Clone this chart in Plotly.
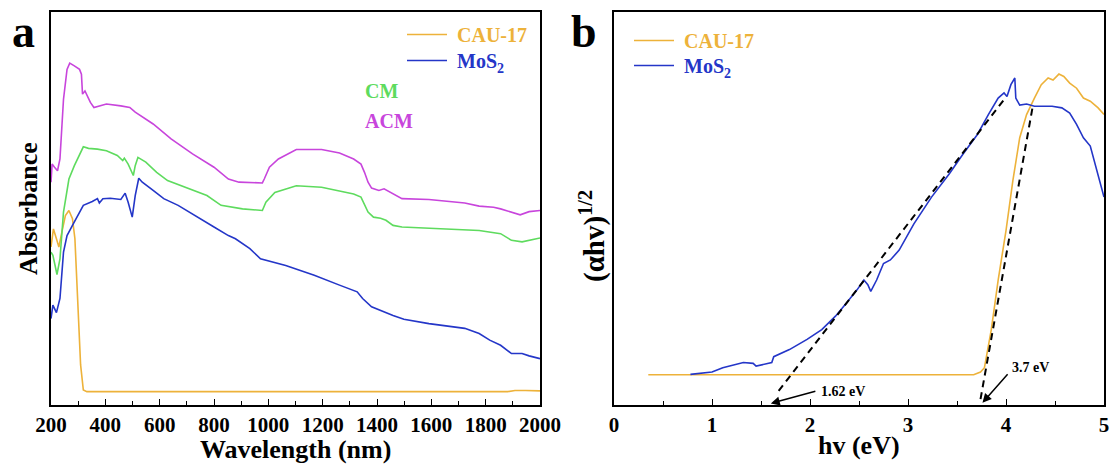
import plotly.graph_objects as go

# ---------------- Panel a: absorbance spectra ----------------
acm_wl = [200, 204, 213, 224, 233, 246, 259, 269, 286, 305, 312, 316, 325, 345, 358, 378, 404, 457, 490, 510,
          576, 642, 721, 800, 853, 892, 978, 985, 1004, 1037, 1103, 1196, 1262, 1314, 1341, 1354, 1367, 1380,
          1407, 1426, 1459, 1492, 1591, 1723, 1776, 1829, 1855, 1895, 1927, 1960, 2000]
acm_abs = [56.7, 61.3, 60.5, 59.6, 62.6, 77.8, 85.4, 87.0, 86.3, 85.4, 84.2, 79.1, 79.9, 77.0, 75.7, 76.1, 76.6,
           76.1, 75.7, 74.5, 71.5, 67.7, 63.9, 60.5, 57.5, 56.7, 56.5, 57.5, 60.5, 62.6, 65.0, 65.0, 64.1, 62.6,
           61.3, 59.2, 56.7, 55.2, 54.6, 55.0, 53.7, 52.5, 52.3, 51.4, 50.6, 50.3, 49.9, 49.1, 48.4, 49.2, 49.5]

cm_wl = [200, 207, 222, 233, 246, 266, 286, 305, 319, 338, 371, 404, 444, 464, 470, 484, 503, 510, 520, 549,
         589, 629, 695, 774, 826, 905, 978, 991, 1024, 1103, 1196, 1314, 1341, 1354, 1367, 1387, 1413, 1433,
         1459, 1492, 1591, 1723, 1776, 1855, 1895, 1934, 1974, 2000]
cm_abs = [38.9, 38.1, 33.2, 37.2, 49.1, 57.5, 60.9, 63.9, 65.7, 65.3, 65.1, 64.7, 63.5, 62.2, 62.8, 61.3, 58.4,
          60.9, 63.0, 61.8, 59.2, 57.1, 55.4, 53.3, 50.8, 49.9, 49.5, 51.6, 54.1, 55.8, 55.4, 53.7, 52.9, 51.2,
          49.1, 47.8, 47.5, 47.0, 45.7, 45.3, 45.0, 44.7, 44.4, 43.6, 41.9, 41.5, 42.1, 42.5]

mos2_wl = [200, 207, 220, 233, 246, 259, 279, 305, 319, 352, 371, 378, 391, 418, 457, 473, 484, 499, 510, 523,
           536, 576, 615, 668, 747, 800, 853, 879, 932, 971, 1064, 1169, 1262, 1327, 1347, 1380, 1459, 1499,
           1591, 1723, 1776, 1815, 1855, 1895, 1934, 1960, 2000]
mos2_abs = [22.0, 25.4, 23.5, 27.1, 38.9, 43.1, 45.7, 49.1, 50.8, 51.8, 52.5, 51.4, 52.5, 52.6, 52.3, 53.9, 51.6,
            47.8, 53.3, 57.7, 56.7, 54.6, 52.5, 50.8, 47.4, 45.3, 43.1, 42.3, 39.8, 37.2, 35.5, 33.0, 30.5, 28.8,
            27.1, 25.0, 22.8, 21.8, 20.7, 19.5, 18.2, 16.5, 15.2, 13.1, 13.1, 12.5, 11.8]

cau_wl = [200, 209, 220, 229, 240, 253, 266, 279, 288, 299, 309, 319, 332, 1881, 1908, 1947, 2000]
cau_abs = [40.2, 44.8, 42.3, 40.2, 44.0, 48.2, 49.5, 47.4, 42.3, 27.1, 10.2, 3.8, 3.4, 3.4, 3.7, 3.7, 3.6]

# ---------------- Panel b: Tauc plot ----------------
cau_hv = [0.35, 3.67, 3.74, 3.78, 3.85, 3.92, 4.00, 4.07, 4.14, 4.21, 4.29, 4.36, 4.43, 4.48, 4.54, 4.59, 4.65,
          4.72, 4.79, 4.86, 4.94, 5.0]
cau_tauc = [7.7, 7.7, 8.4, 9.5, 19.2, 31.8, 44.4, 57.1, 68.0, 73.9, 78.1, 81.5, 83.2, 82.7, 84.2, 83.6, 81.9,
            80.6, 78.1, 77.3, 75.6, 73.9]

mos2_hv = [0.78, 1.00, 1.11, 1.22, 1.32, 1.42, 1.45, 1.61, 1.63, 1.79, 1.97, 2.12, 2.26, 2.37, 2.48, 2.55, 2.59,
           2.62, 2.68, 2.75, 2.82, 2.91, 3.06, 3.24, 3.42, 3.56, 3.71, 3.82, 3.92, 3.98, 4.01, 4.05, 4.09, 4.10,
           4.14, 4.21, 4.29, 4.36, 4.47, 4.57, 4.65, 4.72, 4.79, 4.86, 4.94, 5.0]
mos2_tauc = [7.8, 8.4, 9.5, 10.1, 10.8, 10.6, 9.9, 10.8, 12.3, 14.1, 16.7, 19.2, 22.6, 25.9, 29.3, 31.8, 30.6,
             28.9, 31.8, 36.0, 36.9, 39.4, 46.1, 52.9, 58.8, 63.8, 68.9, 73.9, 78.1, 79.4, 78.5, 81.5, 83.2, 78.1,
             76.3, 76.6, 76.0, 76.0, 76.0, 75.6, 74.3, 71.4, 68.0, 65.9, 58.8, 52.9]

fit_mos2_hv = [1.68, 3.98]
fit_mos2_y = [3.6, 77.7]
fit_cau_hv = [3.74, 4.27]
fit_cau_y = [1.5, 75.6]

gap_labels = ["1.62 eV", "3.7 eV"]

C_CAU = "#EDB23A"
C_MOS2 = "#2436C8"
C_CM = "#5EDB5E"
C_ACM = "#C845DC"
FONT = "Liberation Serif, Times New Roman, serif"

name_cau = f"&nbsp;<span style='color:{C_CAU}'>CAU-17</span>"
name_mos2 = f"&nbsp;<span style='color:{C_MOS2}'>MoS<sub>2</sub></span>"

fig = go.Figure()
lw = 1.6
fig.add_trace(go.Scatter(x=cau_wl, y=cau_abs, mode="lines", line=dict(color=C_CAU, width=lw),
                         name=name_cau, legend="legend"))
fig.add_trace(go.Scatter(x=mos2_wl, y=mos2_abs, mode="lines", line=dict(color=C_MOS2, width=lw),
                         name=name_mos2, legend="legend3"))
fig.add_trace(go.Scatter(x=cm_wl, y=cm_abs, mode="lines", line=dict(color=C_CM, width=lw),
                         name="CM", showlegend=False))
fig.add_trace(go.Scatter(x=acm_wl, y=acm_abs, mode="lines", line=dict(color=C_ACM, width=lw),
                         name="ACM", showlegend=False))

fig.add_trace(go.Scatter(x=cau_hv, y=cau_tauc, mode="lines", line=dict(color=C_CAU, width=lw),
                         name=name_cau, xaxis="x2", yaxis="y2", legend="legend2"))
fig.add_trace(go.Scatter(x=mos2_hv, y=mos2_tauc, mode="lines", line=dict(color=C_MOS2, width=lw),
                         name=name_mos2, xaxis="x2", yaxis="y2", legend="legend4"))
fig.add_trace(go.Scatter(x=fit_mos2_hv, y=fit_mos2_y, mode="lines", line=dict(color="black", width=2, dash="7px,5px"),
                         showlegend=False, xaxis="x2", yaxis="y2"))
fig.add_trace(go.Scatter(x=fit_cau_hv, y=fit_cau_y, mode="lines", line=dict(color="black", width=2, dash="7px,5px"),
                         showlegend=False, xaxis="x2", yaxis="y2"))

ydom = [0.1383, 0.9745]
tickfont = dict(family=FONT, size=21, color="black", weight="bold")
axis_common = dict(showline=True, linecolor="black", linewidth=1.6, mirror=True, showgrid=False,
                   zeroline=False, ticks="inside", ticklen=6, tickwidth=1.3, tickcolor="black",
                   tickfont=tickfont, automargin=False)
yaxis_common = dict(range=[0, 100], showticklabels=False, showline=True, linecolor="black",
                    linewidth=1.6, mirror=True, showgrid=False, zeroline=False, ticks="", automargin=False)


def leg(xpx, ytop):
    return dict(x=xpx / 1115, y=1 - ytop / 470, xanchor="left", yanchor="top", bgcolor="rgba(0,0,0,0)",
                font=dict(family=FONT, size=20, weight="bold"), itemwidth=40)


fig.update_layout(
    width=1115, height=470, margin=dict(l=0, r=0, t=0, b=0, autoexpand=False),
    paper_bgcolor="white", plot_bgcolor="white",
    xaxis=dict(domain=[51 / 1115, 540 / 1115], range=[200, 2000], dtick=200, tick0=200,
               minor=dict(ticks="inside", dtick=100, ticklen=4, tickcolor="black", tickwidth=1.2),
               anchor="y", **axis_common),
    yaxis=dict(domain=ydom, anchor="x", **yaxis_common),
    xaxis2=dict(domain=[614 / 1115, 1104 / 1115], range=[0, 5], dtick=1, tick0=0,
                minor=dict(ticks="inside", dtick=0.5, ticklen=4, tickcolor="black", tickwidth=1.2),
                anchor="y2", **axis_common),
    yaxis2=dict(domain=ydom, anchor="x2", **yaxis_common),
    legend=leg(402, 15),
    legend3=leg(402, 41),
    legend2=leg(629, 21),
    legend4=leg(629, 46),
    showlegend=True,
)

bold = lambda size, color="black": dict(family=FONT, size=size, color=color, weight="bold")
ann = []
ann.append(dict(text="Wavelength (nm)", x=295.5 / 1115, y=1 - 449 / 470, xref="paper", yref="paper",
                showarrow=False, font=bold(26), xanchor="center", yanchor="middle"))
ann.append(dict(text="hv (eV)", x=859 / 1115, y=1 - 445 / 470, xref="paper", yref="paper",
                showarrow=False, font=bold(26), xanchor="center", yanchor="middle"))
ann.append(dict(text="Absorbance", x=28 / 1115, y=1 - 209 / 470, xref="paper", yref="paper", textangle=-90,
                showarrow=False, font=bold(26), xanchor="center", yanchor="middle"))
ann.append(dict(text="(αhv)<sup>1/2</sup>", x=593 / 1115, y=1 - 236 / 470,
                xref="paper", yref="paper", textangle=-90, showarrow=False, font=bold(29),
                xanchor="center", yanchor="middle"))
ann.append(dict(text="a", x=23 / 1115, y=1 - 32 / 470, xref="paper", yref="paper",
                showarrow=False, font=bold(46), xanchor="center", yanchor="middle"))
ann.append(dict(text="b", x=584 / 1115, y=1 - 32 / 470, xref="paper", yref="paper",
                showarrow=False, font=bold(46), xanchor="center", yanchor="middle"))
ann.append(dict(text="CM", x=363 / 1115, y=1 - 91 / 470, xref="paper", yref="paper",
                showarrow=False, font=bold(20, C_CM), xanchor="left", yanchor="middle"))
ann.append(dict(text="ACM", x=363 / 1115, y=1 - 121 / 470, xref="paper", yref="paper",
                showarrow=False, font=bold(20, C_ACM), xanchor="left", yanchor="middle"))
# band-gap arrows
ann.append(dict(x=1.60, y=0.4, ax=2.07, ay=3.6, xref="x2", yref="y2", axref="x2", ayref="y2",
                showarrow=True, arrowhead=2, arrowsize=1.2, arrowwidth=1.5, arrowcolor="black", text=""))
ann.append(dict(x=2.34, y=3.4, xref="x2", yref="y2", text=gap_labels[0], showarrow=False,
                font=bold(14), xanchor="center", yanchor="middle"))
ann.append(dict(x=3.76, y=0.6, ax=4.03, ay=8.2, xref="x2", yref="y2", axref="x2", ayref="y2",
                showarrow=True, arrowhead=2, arrowsize=1.2, arrowwidth=1.5, arrowcolor="black", text=""))
ann.append(dict(x=4.25, y=9.6, xref="x2", yref="y2", text=gap_labels[1], showarrow=False,
                font=bold(14), xanchor="center", yanchor="middle"))
fig.update_layout(annotations=ann)

fig.write_html("out.html")
